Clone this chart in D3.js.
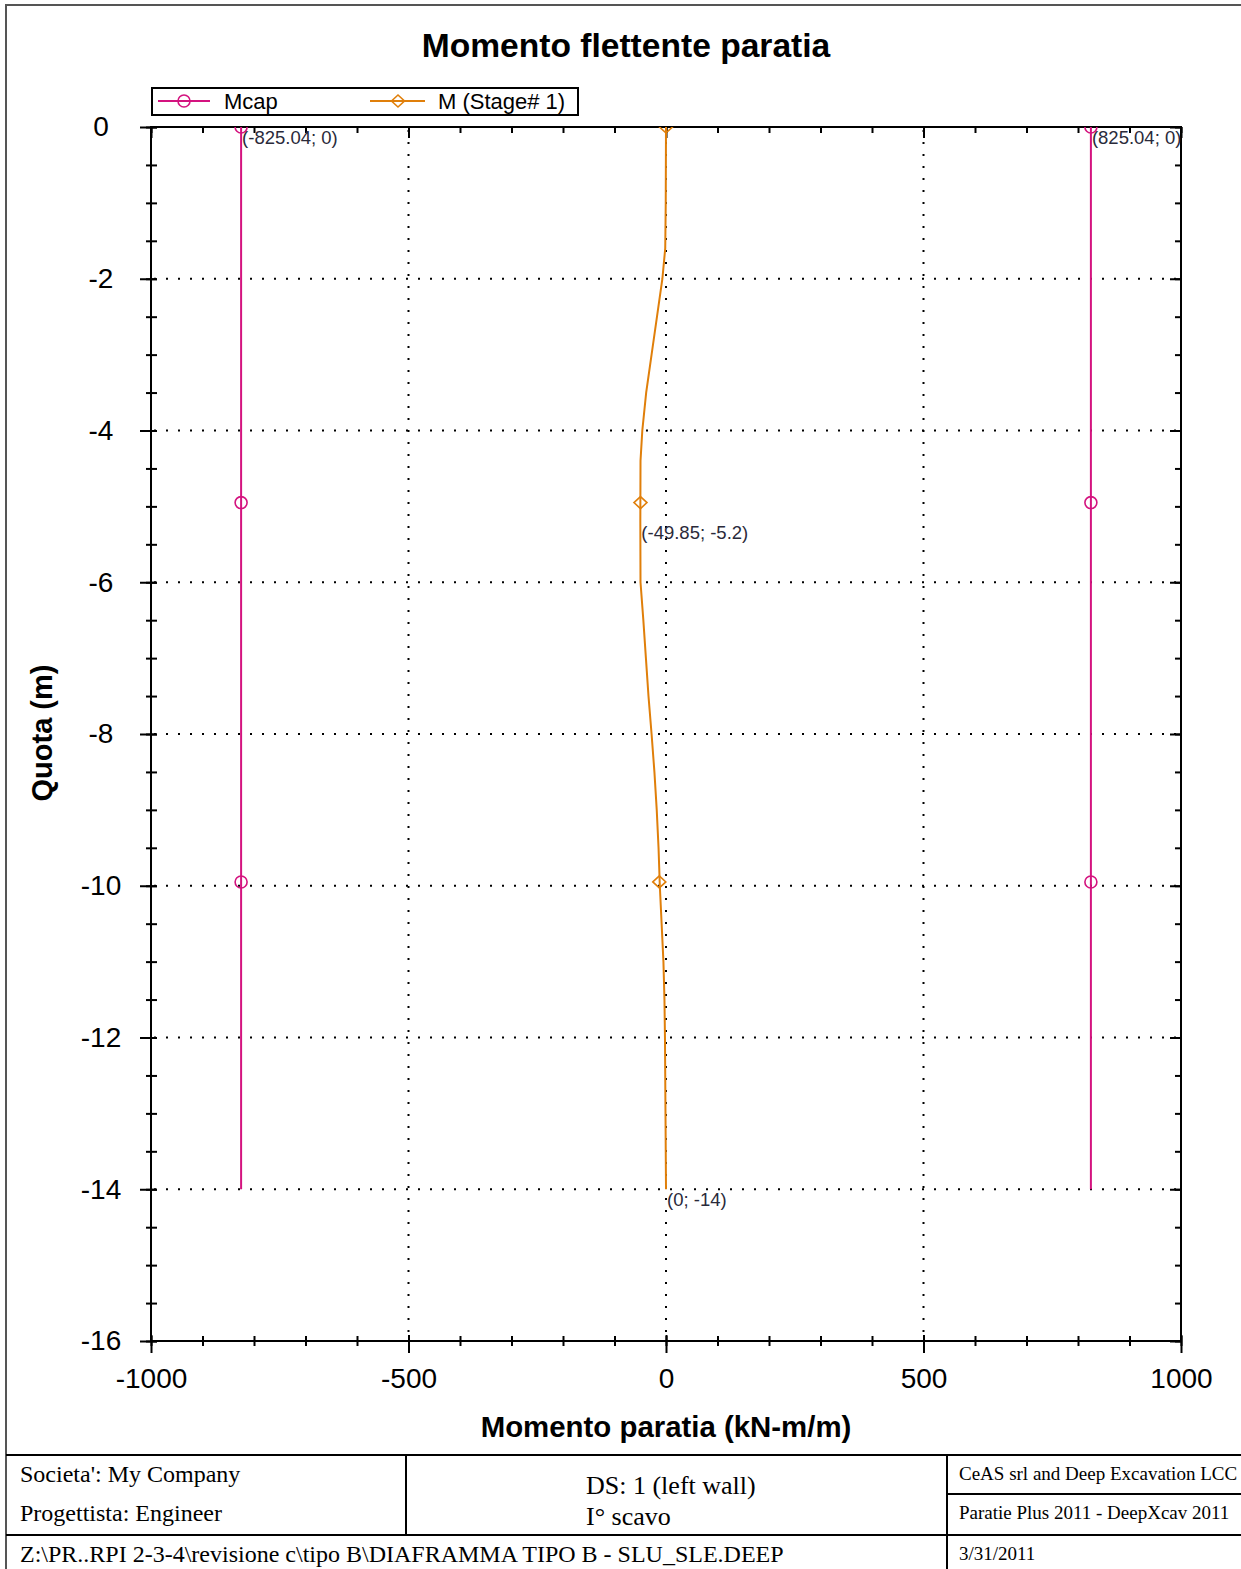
<!DOCTYPE html>
<html>
<head>
<meta charset="utf-8">
<script src="https://cdn.jsdelivr.net/npm/d3@7"></script>
<style>
  html, body { margin: 0; padding: 0; background: #fff; }
  svg { display: block; }
</style>
</head>
<body>
<svg id="chart" width="1241" height="1569"></svg>
<script>
// ---------------- data ----------------
const chartTitle = "Momento flettente paratia";
const xAxisTitle = "Momento paratia (kN-m/m)";
const yAxisTitle = "Quota (m)";
const seriesNames = ["Mcap", "M (Stage# 1)"];

// Mcap (capacity) lines: two vertical lines at +/- 825.04
const mcapValues = [-825.04, 825.04];
const mcapDepth = [0, -14];
const mcapMarkerDepth = [0, -4.95, -9.95];

// M (Stage# 1) bending moment profile
const mDepth  = [0, -1.0, -1.6, -2.0, -2.5, -3.0, -3.5, -4.0, -4.4, -5.2, -6.0, -6.5, -7.0, -7.5, -8.0, -8.5, -9.0, -9.5, -10.0, -10.5, -11.0, -11.5, -12.0, -13.0, -14.0];
const mValues = [0, -0.5, -1.5, -7.0, -17.5, -28.0, -38.5, -46.0, -49.5, -49.85, -49.5, -44.0, -39.0, -34.0, -28.0, -22.5, -18.0, -14.5, -12.0, -8.5, -5.0, -3.0, -2.0, -1.0, 0];
const mMarkerDepth = [0, -4.95, -9.95];
const mMarkerValues = [0, -49.6, -13.0];

// annotations
const annotations = [
  {x: -825.04, y: 0, text: "(-825.04; 0)"},
  {x: 825.04, y: 0, text: "(825.04; 0)"},
  {x: -49.85, y: -5.2, text: "(-49.85; -5.2)"},
  {x: 0, y: -14, text: "(0; -14)"}
];

// axis ticks
const xMajorTicks = [-1000, -500, 0, 500, 1000];
const xMinorTicks = d3.range(-1000, 1001, 100);
const yMajorTicks = [0, -2, -4, -6, -8, -10, -12, -14, -16];
const yMinorTicks = d3.range(0, -16.01, -0.5);
const xGrid = [-500, 0, 500];
const yGrid = [-2, -4, -6, -8, -10, -12, -14];

// footer texts
const footerCompany = "Societa': My Company";
const footerDesigner = "Progettista: Engineer";
const footerDS = "DS: 1 (left wall)";
const footerStage = "I° scavo";
const footerVendor = "CeAS srl and Deep Excavation LCC";
const footerSoftware = "Paratie Plus 2011 - DeepXcav 2011";
const footerDate = "3/31/2011";
const footerPath = "Z:\\PR..RPI 2-3-4\\revisione c\\tipo B\\DIAFRAMMA TIPO B - SLU_SLE.DEEP";

// ---------------- drawing ----------------
const svg = d3.select("#chart");
const SANS = "'Liberation Sans', Arial, sans-serif";
const SERIF = "'Liberation Serif', 'Times New Roman', serif";
const C_MCAP = "#d4137f";
const C_M = "#e07f0a";
const fmt = d => String(d);

const plot = {left: 151, right: 1181, top: 127, bottom: 1341};
const x = d3.scaleLinear().domain([-1000, 1000]).range([plot.left, plot.right]);
const y = d3.scaleLinear().domain([0, -16]).range([plot.top, plot.bottom]);

// outer frame
svg.append("rect").attr("x", 6).attr("y", 5).attr("width", 1250).attr("height", 1580)
  .attr("fill", "none").attr("stroke", "#555").attr("stroke-width", 2);

// title
svg.append("text").attr("x", 626).attr("y", 57).attr("text-anchor", "middle")
  .attr("font-family", SANS).attr("font-weight", "bold").attr("font-size", 33.6)
  .attr("fill", "#000").text(chartTitle);

// clip
svg.append("defs").append("clipPath").attr("id", "plotclip").append("rect")
  .attr("x", plot.left).attr("y", plot.top).attr("width", plot.right - plot.left).attr("height", plot.bottom - plot.top);

// grid (dotted)
const grid = svg.append("g");
grid.selectAll("line.gx").data(xGrid).join("line")
  .attr("x1", d => x(d)).attr("x2", d => x(d)).attr("y1", plot.top + 3).attr("y2", plot.bottom)
  .attr("stroke", "#000").attr("stroke-width", 2).attr("stroke-dasharray", "2 10");
grid.selectAll("line.gy").data(yGrid).join("line")
  .attr("y1", d => y(d)).attr("y2", d => y(d)).attr("x1", plot.left + 3).attr("x2", plot.right)
  .attr("stroke", "#000").attr("stroke-width", 2).attr("stroke-dasharray", "2 10");

// axes
function styleAxis(g) {
  g.select(".domain").remove();
  g.selectAll("line").attr("stroke", "#000").attr("stroke-width", 2);
}
// bottom minor
svg.append("g").attr("transform", `translate(0,${plot.bottom})`)
  .call(d3.axisBottom(x).tickValues(xMinorTicks).tickSize(5).tickFormat(""))
  .call(styleAxis).call(g => g.selectAll("line").attr("y1", -5));
// bottom major
svg.append("g").attr("transform", `translate(0,${plot.bottom})`)
  .call(d3.axisBottom(x).tickValues(xMajorTicks).tickSize(12).tickPadding(15).tickFormat(fmt))
  .call(styleAxis).call(g => g.selectAll("line").attr("y1", -6))
  .call(g => g.selectAll("text").attr("font-family", SANS).attr("font-size", 28).attr("fill", "#000"));
// top minor/major (inside)
svg.append("g").attr("transform", `translate(0,${plot.top})`)
  .call(d3.axisTop(x).tickValues(xMinorTicks).tickSize(-6).tickFormat(""))
  .call(styleAxis);
svg.append("g").attr("transform", `translate(0,${plot.top})`)
  .call(d3.axisTop(x).tickValues(xMajorTicks).tickSize(-11).tickFormat(""))
  .call(styleAxis);
// left minor
svg.append("g").attr("transform", `translate(${plot.left},0)`)
  .call(d3.axisLeft(y).tickValues(yMinorTicks).tickSize(5).tickFormat(""))
  .call(styleAxis).call(g => g.selectAll("line").attr("x1", 6));
// left major
svg.append("g").attr("transform", `translate(${plot.left},0)`)
  .call(d3.axisLeft(y).tickValues(yMajorTicks).tickSize(11).tickPadding(0).tickFormat(fmt))
  .call(styleAxis).call(g => g.selectAll("line").attr("x1", 6))
  .call(g => g.selectAll("text").attr("x", -50).attr("text-anchor", "middle")
    .attr("font-family", SANS).attr("font-size", 28).attr("fill", "#000"));
// right (inside)
svg.append("g").attr("transform", `translate(${plot.right},0)`)
  .call(d3.axisRight(y).tickValues(yMinorTicks).tickSize(-6).tickFormat(""))
  .call(styleAxis);
svg.append("g").attr("transform", `translate(${plot.right},0)`)
  .call(d3.axisRight(y).tickValues(yMajorTicks).tickSize(-11).tickFormat(""))
  .call(styleAxis);

// plot frame
svg.append("rect").attr("x", plot.left).attr("y", plot.top)
  .attr("width", plot.right - plot.left).attr("height", plot.bottom - plot.top)
  .attr("fill", "none").attr("stroke", "#000").attr("stroke-width", 2);

// axis titles
svg.append("text").attr("x", 666).attr("y", 1437).attr("text-anchor", "middle")
  .attr("font-family", SANS).attr("font-weight", "bold").attr("font-size", 29.4)
  .attr("fill", "#000").text(xAxisTitle);
svg.append("text").attr("transform", "translate(52,733) rotate(-90)").attr("text-anchor", "middle")
  .attr("font-family", SANS).attr("font-weight", "bold").attr("font-size", 29)
  .attr("fill", "#000").text(yAxisTitle);

// series
const data = svg.append("g").attr("clip-path", "url(#plotclip)");
const line = d3.line().x(d => x(d[0])).y(d => y(d[1]));

mcapValues.forEach(v => {
  data.append("path").datum(mcapDepth.map(dd => [v, dd])).attr("d", line)
    .attr("fill", "none").attr("stroke", C_MCAP).attr("stroke-width", 2);
  data.selectAll(null).data(mcapMarkerDepth).join("circle")
    .attr("cx", x(v)).attr("cy", d => y(d)).attr("r", 6)
    .attr("fill", "none").attr("stroke", C_MCAP).attr("stroke-width", 1.6);
});

data.append("path").datum(mDepth.map((dd, i) => [mValues[i], dd])).attr("d", line)
  .attr("fill", "none").attr("stroke", C_M).attr("stroke-width", 2);
const diamond = (cx, cy) => `M${cx - 6.5},${cy} L${cx},${cy - 6} L${cx + 6.5},${cy} L${cx},${cy + 6} Z`;
data.selectAll(null).data(mMarkerDepth).join("path")
  .attr("d", (d, i) => diamond(x(mMarkerValues[i]), y(d)))
  .attr("fill", "none").attr("stroke", C_M).attr("stroke-width", 1.6);

// annotations
svg.append("g").selectAll("text").data(annotations).join("text")
  .attr("x", d => x(d.x) + 1).attr("y", d => y(d.y) + 17)
  .attr("font-family", SANS).attr("font-size", 18.5).attr("fill", "#2a2a3a")
  .text(d => d.text);

// legend
const lg = svg.append("g");
lg.append("rect").attr("x", 152).attr("y", 88).attr("width", 426).attr("height", 27)
  .attr("fill", "#fff").attr("stroke", "#000").attr("stroke-width", 2);
lg.append("line").attr("x1", 158).attr("x2", 210).attr("y1", 101).attr("y2", 101)
  .attr("stroke", C_MCAP).attr("stroke-width", 2);
lg.append("circle").attr("cx", 184).attr("cy", 101).attr("r", 6)
  .attr("fill", "none").attr("stroke", C_MCAP).attr("stroke-width", 1.6);
lg.append("text").attr("x", 224).attr("y", 109).attr("font-family", SANS).attr("font-size", 22)
  .attr("fill", "#000").text(seriesNames[0]);
lg.append("line").attr("x1", 370).attr("x2", 425).attr("y1", 101).attr("y2", 101)
  .attr("stroke", C_M).attr("stroke-width", 2);
lg.append("path").attr("d", diamond(398, 101))
  .attr("fill", "none").attr("stroke", C_M).attr("stroke-width", 1.6);
lg.append("text").attr("x", 438).attr("y", 109).attr("font-family", SANS).attr("font-size", 22)
  .attr("fill", "#000").text(seriesNames[1]);

// footer table
const ft = svg.append("g").attr("stroke", "#000").attr("stroke-width", 2);
ft.append("line").attr("x1", 6).attr("x2", 1241).attr("y1", 1455).attr("y2", 1455);
ft.append("line").attr("x1", 6).attr("x2", 1241).attr("y1", 1535).attr("y2", 1535);
ft.append("line").attr("x1", 406).attr("x2", 406).attr("y1", 1455).attr("y2", 1535);
ft.append("line").attr("x1", 947).attr("x2", 947).attr("y1", 1455).attr("y2", 1569);
ft.append("line").attr("x1", 947).attr("x2", 1241).attr("y1", 1494).attr("y2", 1494);

const fText = (tx, ty, size, txt) => svg.append("text").attr("x", tx).attr("y", ty)
  .attr("font-family", SERIF).attr("font-size", size).attr("fill", "#000").text(txt);
fText(20, 1482, 24, footerCompany);
fText(20, 1521, 24, footerDesigner);
fText(586, 1494, 26, footerDS);
fText(586, 1525, 26, footerStage);
fText(959, 1480, 19, footerVendor);
fText(959, 1519, 19, footerSoftware);
fText(959, 1560, 19, footerDate);
fText(20, 1562, 24, footerPath);
</script>
</body>
</html>
